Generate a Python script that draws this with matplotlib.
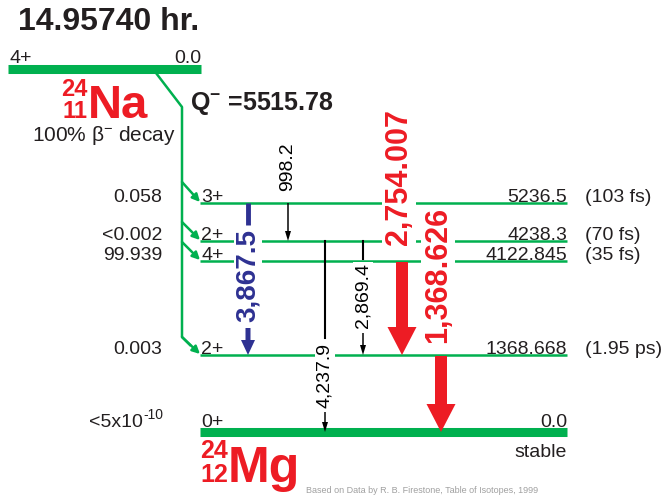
"""Decay scheme of 24Na -> 24Mg, drawn in pixel coordinates."""
import matplotlib.pyplot as plt

plt.rcParams['font.family'] = ['Liberation Sans', 'DejaVu Sans']
plt.rcParams['mathtext.fontset'] = 'custom'
plt.rcParams['mathtext.rm'] = 'Liberation Sans'
plt.rcParams['mathtext.it'] = 'Liberation Sans:italic'
plt.rcParams['mathtext.bf'] = 'Liberation Sans:bold'

GREEN = '#00b04f'
RED = '#ed1c24'
BLUE = '#2e3192'
INK = '#231f20'

# data
half_life = '14.95740 hr.'
q_value = '5515.78'
parent_spin = '4+'
parent_energy = '0.0'
level_energy = ['0.0', '1368.668', '4122.845', '4238.3', '5236.5']
level_spin = ['0+', '2+', '4+', '2+', '3+']
level_life = ['stable', '(1.95 ps)', '(35 fs)', '(70 fs)', '(103 fs)']
beta_branch = ['<5x10', '0.003', '99.939', '<0.002', '0.058']
beta_exponent = ['-10', '', '', '', '']
gamma_label = ['998.2', '3,867.5', '2,754.007', '2,869.4', '4,237.9', '1,368.626']
gamma_from = [4, 4, 2, 3, 3, 1]
gamma_to = [3, 1, 1, 1, 0, 0]

# layout, in pixels
level_y = [432, 355, 261, 241, 203]
gamma_x = [288, 248, 402, 363, 325, 441]
gamma_label_y = [167, 275, 177, 296, 375, 275]
gamma_kind = ['thin', 'blue', 'big', 'thin', 'thin', 'big']
beta_start = [337, 337, 242, 222, 182]

fig = plt.figure(figsize=(6.71, 4.95), dpi=100)
ax = fig.add_axes([0, 0, 1, 1])
ax.set_xlim(0, 671)
ax.set_ylim(495, 0)
ax.axis('off')

txt = dict(color=INK, fontsize=14, va='baseline')

# title and parent
ax.text(18, 30, half_life, color=INK, fontsize=23, fontweight='bold', va='baseline')
ax.plot([8, 201], [69, 69], color=GREEN, lw=6.5, solid_capstyle='butt')
ax.text(10, 63, parent_spin, ha='left', **txt)
ax.text(201, 63, parent_energy, ha='right', **txt)
ax.text(88, 96, '24', ha='right', color=RED, fontsize=17, fontweight='bold', va='baseline')
ax.text(88, 118, '11', ha='right', color=RED, fontsize=17, fontweight='bold', va='baseline')
ax.text(88, 118, 'Na', ha='left', color=RED, fontsize=34, fontweight='bold', va='baseline')
ax.text(32, 141, r'100% β$^{-}$ decay', color=INK, fontsize=15, va='baseline')
ax.text(190, 110, r'Q$^{\mathbf{-}}$ =' + q_value, color=INK, fontsize=18,
        fontweight='bold', va='baseline')

# beta feeding line
ax.plot([156, 182, 182, 190], [73, 107, 337, 345], color=GREEN, lw=1.8)
for i in range(1, 5):
    ax.annotate('', xy=(200, level_y[i] - 1), xytext=(182, beta_start[i]),
                arrowprops=dict(arrowstyle='-|>', color=GREEN, lw=1.8,
                                mutation_scale=11, shrinkA=0, shrinkB=0))

# daughter levels
for i, y in enumerate(level_y):
    lw = 6.5 if i == 0 else 1.8
    ax.plot([200, 567], [y, y], color=GREEN, lw=lw, solid_capstyle='butt', zorder=1)
    base = y - 5 if i == 0 else y - 1
    ax.text(201, base, level_spin[i], ha='left', **txt)
    ax.text(567, base, level_energy[i], ha='right', **txt)
    if beta_exponent[i]:
        ax.text(143, base, beta_branch[i], ha='right', **txt)
        ax.text(143, base - 8, beta_exponent[i], ha='left', color=INK, fontsize=10,
                va='baseline')
    else:
        ax.text(162, base, beta_branch[i], ha='right', **txt)
    if i == 0:
        ax.text(567, 444, level_life[i], ha='right', color=INK, fontsize=14, va='top')
    else:
        ax.text(585, base, level_life[i], ha='left', **txt)

ax.text(228, 458, '24', ha='right', color=RED, fontsize=18, fontweight='bold',
        va='baseline', zorder=5)
ax.text(228, 482, '12', ha='right', color=RED, fontsize=18, fontweight='bold',
        va='baseline', zorder=5)
ax.text(228, 482, 'Mg', ha='left', color=RED, fontsize=36, fontweight='bold',
        va='baseline', zorder=5)

# gamma transitions
white = dict(facecolor='white', edgecolor='none', pad=1)
for k in range(len(gamma_label)):
    x = gamma_x[k]
    y0 = level_y[gamma_from[k]]
    y1 = level_y[gamma_to[k]]
    ly = gamma_label_y[k]
    kind = gamma_kind[k]
    if kind == 'big':
        ax.arrow(x, y0 + 1, 0, y1 - y0 - 1, width=12, head_width=29, head_length=28,
                 length_includes_head=True, color=RED, lw=0, zorder=3)
        ax.text(x - 3, ly, gamma_label[k], rotation=90, ha='center', va='center',
                color=RED, fontsize=22, fontweight='bold', bbox=white, zorder=4)
    elif kind == 'blue':
        ax.plot([x, x], [y0, ly - 50], color=BLUE, lw=3.5, solid_capstyle='butt', zorder=3)
        ax.arrow(x, ly + 53, 0, y1 - ly - 53, width=5, head_width=14, head_length=15,
                 length_includes_head=True, color=BLUE, lw=0, zorder=3)
        ax.text(x, ly, gamma_label[k], rotation=90, ha='center', va='center',
                color=BLUE, fontsize=20, fontweight='bold', bbox=white, zorder=4)
    elif y1 - y0 < 60:
        ax.arrow(x, y0, 0, y1 - y0, width=1.5, head_width=6, head_length=10,
                 length_includes_head=True, color='black', lw=0, zorder=3)
        ax.text(x, ly, gamma_label[k], rotation=90, ha='center', va='center',
                color='black', fontsize=14, bbox=white, zorder=4)
    else:
        half = 37
        ax.plot([x, x], [y0, ly - half], color='black', lw=1.5, zorder=3)
        ax.arrow(x, ly + half, 0, y1 - ly - half, width=1.5, head_width=6,
                 head_length=10, length_includes_head=True, color='black',
                 lw=0, zorder=3)
        ax.text(x, ly, gamma_label[k], rotation=90, ha='center', va='center',
                color='black', fontsize=14, bbox=white, zorder=4)

ax.text(306, 493, 'Based on Data by R. B. Firestone, Table of Isotopes, 1999',
        color='#a0a0a0', fontsize=6.5, va='baseline', zorder=2)

fig.savefig('out.png', dpi=100)
